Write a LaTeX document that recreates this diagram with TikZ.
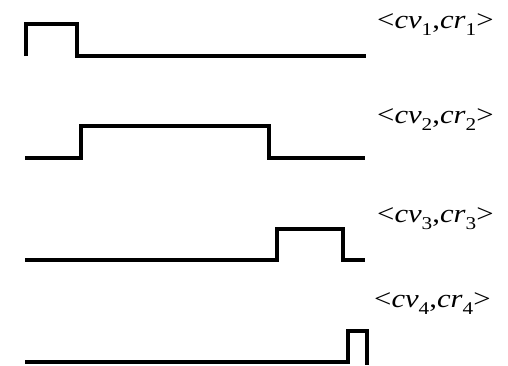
\documentclass[tikz,border=0pt]{standalone}
\usepackage{fontspec}
\setmainfont{Liberation Serif}
\usepackage{tikz}
\usetikzlibrary{positioning}

\newcommand{\pairsub}[1]{\raisebox{-7pt}{\fontsize{18}{20}\selectfont #1}}
\newcommand{\cvpair}[1]{\scalebox{1.18}[1]{\textless\textit{cv}\pairsub{#1},\textit{cr}\pairsub{#1}\textgreater}}

\begin{document}
\begin{tikzpicture}[
  x=1pt, y=-1pt,
  wave/.style={line width=3.3pt, line join=miter, line cap=butt},
  pairlabel/.style={anchor=base west, inner sep=0pt, font=\fontsize{26}{30}\selectfont},
]
  \useasboundingbox (0,0) rectangle (508,365);

  % --- Signal 1 ---
  \draw[wave] (26,56) -- (26,24) -- (77,24) -- (77,56) -- (366,56);
  \node[pairlabel] (lab1) at (377,28) {\cvpair{1}};

  % --- Signal 2 ---
  \draw[wave] (25,158) -- (81,158) -- (81,126) -- (269,126) -- (269,158) -- (365,158);
  \node[pairlabel] (lab2) at (377,123) {\cvpair{2}};

  % --- Signal 3 ---
  \draw[wave] (25,260) -- (277,260) -- (277,229) -- (343,229) -- (343,260) -- (365,260);
  \node[pairlabel] (lab3) at (377,222) {\cvpair{3}};

  % --- Signal 4 ---
  \draw[wave] (25,362) -- (348,362) -- (348,331) -- (367,331) -- (367,365);
  \node[pairlabel] (lab4) at (374,307) {\cvpair{4}};
\end{tikzpicture}
\end{document}
